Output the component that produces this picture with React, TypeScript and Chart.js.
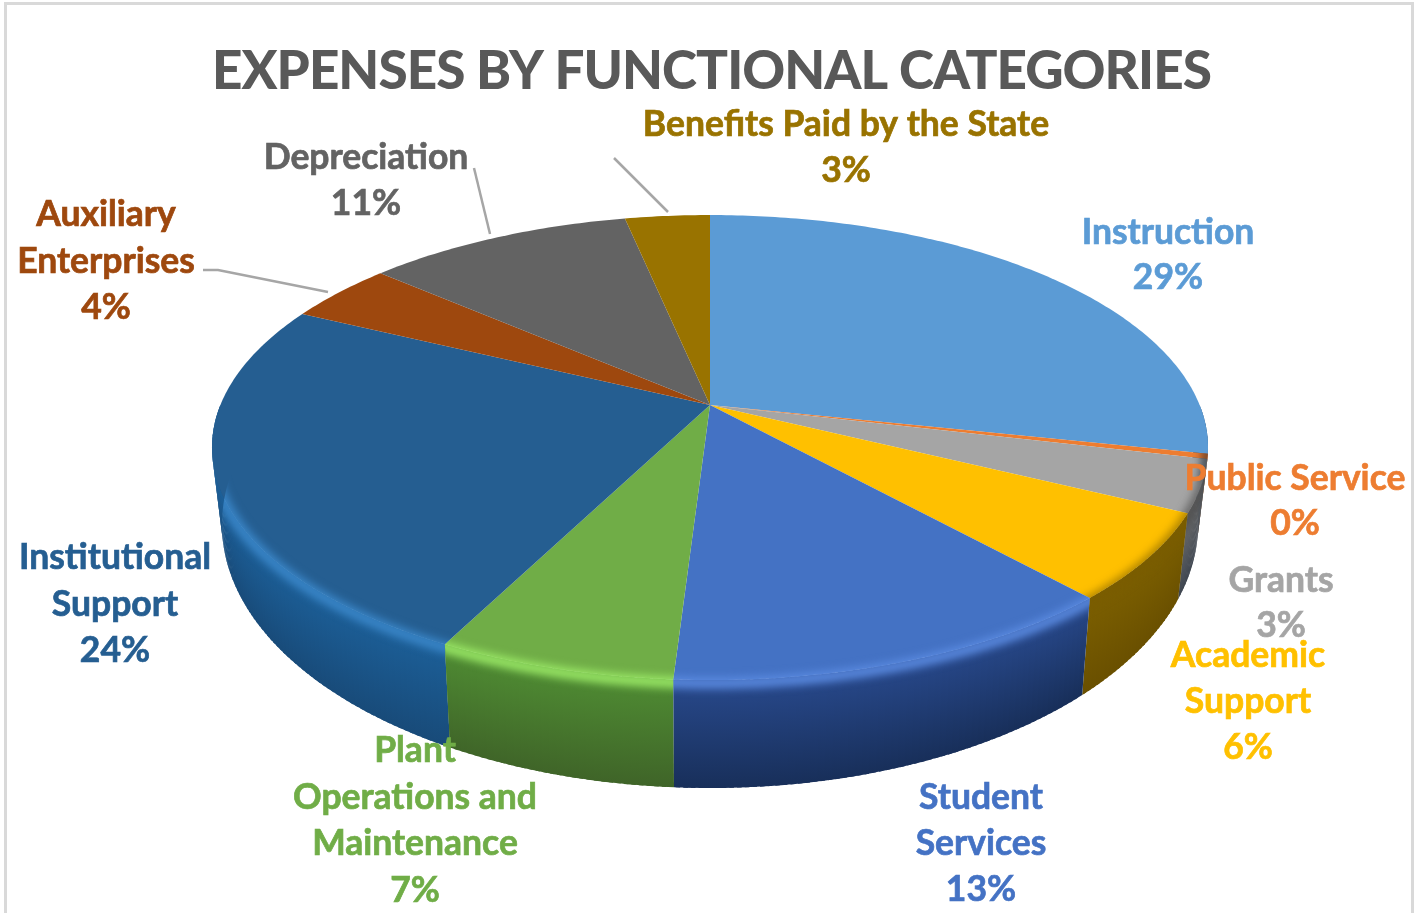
import React, { useEffect, useRef } from "react";
import { Chart, registerables } from "chart.js";

Chart.register(...registerables);

const categories = ["Instruction", "Public Service", "Grants", "Academic Support", "Student Services", "Plant Operations and Maintenance", "Institutional Support", "Auxiliary Enterprises", "Depreciation", "Benefits Paid by the State"];
const values = [28.3, 0.35, 3.6, 6, 12.65, 6.5, 24.68, 4.2, 10.29, 3.28];
const percentLabels = ["29%", "0%", "3%", "6%", "13%", "7%", "24%", "4%", "11%", "3%"];
const labelLines = [["Instruction"], ["Public Service"], ["Grants"], ["Academic", "Support"], ["Student", "Services"], ["Plant", "Operations and", "Maintenance"], ["Institutional", "Support"], ["Auxiliary", "Enterprises"], ["Depreciation"], ["Benefits Paid by the State"]];
const topColors = ["#5b9bd5", "#ed7d31", "#a5a5a5", "#ffc000", "#4472c4", "#70ad47", "#255e91", "#9e480e", "#636363", "#997300"];
const labelColors = ["#5b9bd5", "#ed7d31", "#a5a5a5", "#ffc000", "#4472c4", "#70ad47", "#255e91", "#9e480e", "#636363", "#997300"];
const sideTop = ["#35648f", "#a85a20", "#707070", "#7d6000", "#28498c", "#4f8c33", "#1c5f98", "#6a3009", "#404040", "#665000"];
const sideBottom = ["#1f3e5c", "#6a3a14", "#3f4650", "#6a5000", "#182f5a", "#3f6428", "#184a78", "#4a2206", "#303030", "#4a3a00"];
const rimColors = ["rgba(30,60,90,.5)", "rgba(120,60,20,.6)", "rgba(60,60,60,.6)", "rgba(120,90,0,.6)", "#5a8ae0", "#9ae866", "#3a86c8", "#c06020", "#888888", "#c09000"];
const labelCentres = [[1168, 233], [1295, 479], [1281, 581], [1248, 656], [981, 798], [415, 751], [115, 558], [106, 215], [366, 158], [846, 125]];
const lineSteps = [45, 45, 45, 46, 46, 46.5, 46.5, 46.5, 46, 46];
const leaderLines = [[[203, 270], [218, 270], [328, 292]], [[474, 168], [490, 234]], [[614, 158], [668, 212]]];

const CX = 710, CY = 405, Q = 0.183, A = 489.6, B = 224.7;
const top = (t: number) => {
  const u = Math.sin(t), v = -Math.cos(t), d = 1 - Q * v;
  return [CX + (A * u) / d, CY + (B * v) / d];
};
const bottom = (t: number) => {
  const [x, y] = top(t);
  return [CX + 0.98 * (x - CX), 524 + 1.133 * (y - 447)];
};
const STEP = Math.PI / 240;

const pie3d = {
  id: "pie3d",
  beforeDraw(chart: any) {
    const { ctx } = chart;
    ctx.save();
    ctx.fillStyle = "#ffffff";
    ctx.fillRect(0, 0, chart.width, chart.height);
    ctx.strokeStyle = "#d9d9d9";
    ctx.lineWidth = 3;
    ctx.strokeRect(5.5, 3.5, 1407, 930);
    ctx.restore();
    ctx.letterSpacing = "-0.95px";
  },
  beforeDatasetsDraw(chart: any) {
    const { ctx } = chart;
    const arcs = chart.getDatasetMeta(0).data;
    const range = arcs.map((a: any) => [a.startAngle + Math.PI / 2, a.endAngle + Math.PI / 2]);
    const quads: any[] = [];
    range.forEach(([s, e]: number[], i: number) => {
      const a0 = Math.max(s, Math.PI * 0.5), a1 = Math.min(e, Math.PI * 1.5);
      for (let t = a0; t < a1; t += STEP) quads.push({ t, i, end: Math.min(t + STEP * 1.6, a1) });
    });
    quads.sort((p, q) => -Math.cos(p.t) - -Math.cos(q.t));
    ctx.save();
    quads.forEach(({ t, i, end }) => {
      const p0 = top(t), p1 = top(end), b0 = bottom(t), b1 = bottom(end);
      const g = ctx.createLinearGradient(p0[0], p0[1], b0[0], b0[1]);
      g.addColorStop(0, sideTop[i]);
      g.addColorStop(1, sideBottom[i]);
      ctx.fillStyle = g;
      ctx.beginPath();
      ctx.moveTo(p0[0], p0[1]);
      ctx.lineTo(p1[0], p1[1]);
      ctx.lineTo(b1[0], b1[1]);
      ctx.lineTo(b0[0], b0[1]);
      ctx.closePath();
      ctx.fill();
    });
    range.forEach(([s, e]: number[], i: number) => {
      ctx.beginPath();
      ctx.moveTo(CX, CY);
      for (let t = s; t < e; t += STEP) {
        const p = top(t);
        ctx.lineTo(p[0], p[1]);
      }
      const p = top(e);
      ctx.lineTo(p[0], p[1]);
      ctx.closePath();
      ctx.fillStyle = arcs[i].options.backgroundColor;
      ctx.fill();
    });
    range.forEach(([s, e]: number[], i: number) => {
      const a0 = Math.max(s, Math.PI * 0.56), a1 = Math.min(e, Math.PI * 1.5);
      if (a1 <= a0) return;
      ctx.save();
      ctx.beginPath();
      ctx.moveTo(CX, CY);
      ctx.lineTo(top(s)[0], top(s)[1]);
      ctx.lineTo(bottom(s)[0], bottom(s)[1]);
      for (let t = s; t < e; t += STEP) {
        const p = bottom(t);
        ctx.lineTo(p[0], p[1]);
      }
      ctx.lineTo(bottom(e)[0], bottom(e)[1]);
      ctx.lineTo(top(e)[0], top(e)[1]);
      ctx.closePath();
      ctx.clip();
      ctx.filter = "blur(4px)";
      ctx.strokeStyle = rimColors[i];
      ctx.lineWidth = 11;
      ctx.beginPath();
      const from = a0 - STEP * 8;
      for (let t = from; t <= a1 + STEP * 8; t += STEP) {
        const p = top(t);
        if (t === from) ctx.moveTo(p[0], p[1] + 3);
        else ctx.lineTo(p[0], p[1] + 3);
      }
      ctx.stroke();
      ctx.restore();
    });
    ctx.restore();
    return false;
  },
  afterDraw(chart: any) {
    const { ctx } = chart;
    ctx.save();
    ctx.strokeStyle = "#a6a6a6";
    ctx.lineWidth = 2.5;
    leaderLines.forEach((pts) => {
      ctx.beginPath();
      pts.forEach(([x, y], k) => (k ? ctx.lineTo(x, y) : ctx.moveTo(x, y)));
      ctx.stroke();
    });
    ctx.font = "bold 35.5px Lato";
    ctx.letterSpacing = "0px";
    ctx.textAlign = "center";
    ctx.textBaseline = "middle";
    ctx.lineWidth = 0.7;
    chart.data.labels.forEach((_: string, i: number) => {
      ctx.fillStyle = labelColors[i];
      ctx.strokeStyle = labelColors[i];
      const lines = [...labelLines[i], percentLabels[i]];
      lines.forEach((line, k) => {
        const y = labelCentres[i][1] + k * lineSteps[i];
        ctx.fillText(line, labelCentres[i][0], y);
        ctx.strokeText(line, labelCentres[i][0], y);
      });
    });
    ctx.restore();
  },
};

export default function App() {
  const ref = useRef<HTMLCanvasElement>(null);
  useEffect(() => {
    document.body.style.margin = "0";
    const chart = new Chart(ref.current as HTMLCanvasElement, {
      type: "pie",
      data: {
        labels: categories,
        datasets: [{ data: values, backgroundColor: topColors, borderWidth: 0 }],
      },
      options: {
        animation: false,
        responsive: false,
        layout: { padding: 0 },
        plugins: {
          legend: { display: false },
          tooltip: { enabled: false },
          title: {
            display: true,
            text: "EXPENSES BY FUNCTIONAL CATEGORIES",
            color: "#595959",
            font: { family: "Lato", weight: "900", size: 53 },
            padding: { top: 40, bottom: 10 },
          },
        },
      },
      plugins: [pie3d],
    } as any);
    return () => chart.destroy();
  }, []);
  return <canvas ref={ref} width={1423} height={913} style={{ display: "block" }} />;
}
